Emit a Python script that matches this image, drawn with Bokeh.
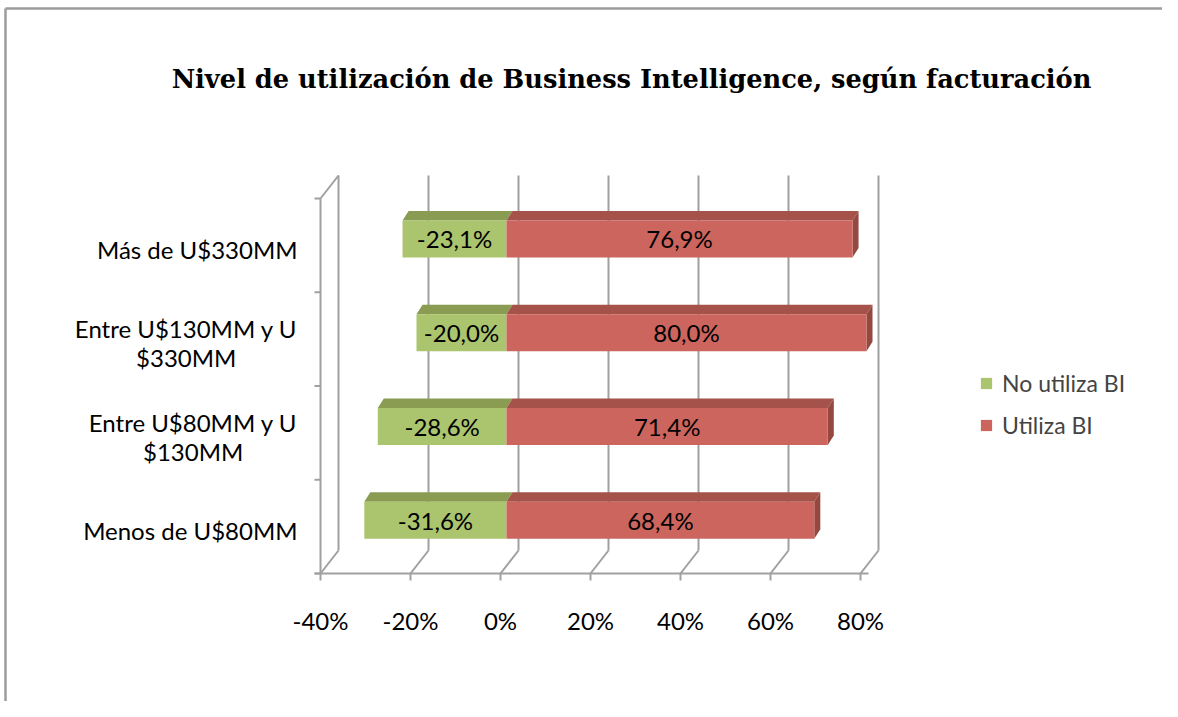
from bokeh.plotting import figure
from bokeh.models import ColumnDataSource, Range1d, Legend, LegendItem
from bokeh.core.properties import value
from bokeh.embed import file_html
from bokeh.resources import INLINE

# ---------------- data ----------------
title_text = "Nivel de utilización de Business Intelligence, según facturación"
categories = ["Menos de U$80MM", "Entre U$80MM y U\n$130MM",
              "Entre U$130MM y U\n$330MM", "Más de U$330MM"]
no_utiliza = [-31.6, -28.6, -20.0, -23.1]
utiliza = [68.4, 71.4, 80.0, 76.9]
series_names = ["No utiliza BI", "Utiliza BI"]
x_ticks = [-40, -20, 0, 20, 40, 60, 80]
x_tick_labels = ["-40%", "-20%", "0%", "20%", "40%", "60%", "80%"]

# ---------------- layout helpers ----------------
W, H = 1162, 701
PX_PER_UNIT_X = 4.5      # pixels per 1 %
PX_PER_UNIT_Y = 93.75    # pixels per category
X0_PX, Y0_PX = 500, 573  # screen position of (0%, floor)

def dx(px):
    return px / PX_PER_UNIT_X

def dy(px):
    return px / PX_PER_UNIT_Y

BACK_DX, BACK_DY = dx(18), dy(23)       # depth of the 3D box
BAR_FX, BAR_FY = dx(6), dy(6.5)         # front face of bars offset
BAR_DX, BAR_DY = dx(6), dy(9.5)         # bar depth
BAR_H = dy(37)

GRID = "#A0A0A0"
GREEN, GREEN_TOP = "#ABC46E", "#899C52"
RED, RED_TOP, RED_SIDE = "#CC655D", "#A5524A", "#944840"
FONT = "Lato"

p = figure(width=W, height=H,
           x_range=Range1d(-X0_PX / PX_PER_UNIT_X, (W - X0_PX) / PX_PER_UNIT_X),
           y_range=Range1d((Y0_PX - H) / PX_PER_UNIT_Y, Y0_PX / PX_PER_UNIT_Y),
           output_backend="svg", toolbar_location=None, min_border=0,
           x_axis_location=None, y_axis_location=None)
p.grid.visible = False
p.outline_line_color = None
p.background_fill_color = "white"
p.border_fill_color = "white"

xmin, xmax = x_ticks[0], x_ticks[-1]
ncat = len(categories)

# chart border (top and left)
bx = -dx(X0_PX - 5)
by = dy(Y0_PX - 8)
p.segment(x0=[bx, bx], y0=[by, by], x1=[p.x_range.end, bx], y1=[by, p.y_range.start],
          line_color="#9C9C9C", line_width=2.5)

# back wall gridlines
p.segment(x0=[t + BACK_DX for t in x_ticks], y0=[BACK_DY] * len(x_ticks),
          x1=[t + BACK_DX for t in x_ticks], y1=[ncat + BACK_DY] * len(x_ticks),
          line_color=GRID, line_width=2)
# floor diagonals
p.segment(x0=x_ticks, y0=[0] * len(x_ticks),
          x1=[t + BACK_DX for t in x_ticks], y1=[BACK_DY] * len(x_ticks),
          line_color=GRID, line_width=2)
# floor front line + ticks
p.segment(x0=[xmin - dx(6)], y0=[0], x1=[xmax + dx(8)], y1=[0],
          line_color=GRID, line_width=2)
p.segment(x0=x_ticks, y0=[0] * len(x_ticks), x1=x_ticks, y1=[-dy(7)] * len(x_ticks),
          line_color=GRID, line_width=2)
# left wall front edge, top diagonal, ticks
p.segment(x0=[xmin, xmin], y0=[0, ncat], x1=[xmin, xmin + BACK_DX], y1=[ncat, ncat + BACK_DY],
          line_color=GRID, line_width=2)
p.segment(x0=[xmin - dx(6)] * (ncat + 1), y0=list(range(ncat + 1)),
          x1=[xmin] * (ncat + 1), y1=list(range(ncat + 1)),
          line_color=GRID, line_width=2)

# ---------------- bars ----------------
yc = [i + 0.5 + BAR_FY for i in range(ncat)]
src = ColumnDataSource(dict(
    y=yc,
    g_left=[v + BAR_FX for v in no_utiliza], r_left=[BAR_FX] * ncat,
    g_right=[BAR_FX] * ncat, r_right=[v + BAR_FX for v in utiliza],
    g_mid=[v / 2 + BAR_FX for v in no_utiliza], r_mid=[v / 2 + BAR_FX for v in utiliza],
    g_lab=[("%.1f%%" % v).replace(".", ",") for v in no_utiliza],
    r_lab=[("%.1f%%" % v).replace(".", ",") for v in utiliza],
))

def top_faces(lefts, rights):
    xs, ys = [], []
    for l, r, y in zip(lefts, rights, yc):
        t = y + BAR_H / 2
        xs.append([l, r, r + BAR_DX, l + BAR_DX])
        ys.append([t, t, t + BAR_DY, t + BAR_DY])
    return xs, ys

gx, gy = top_faces(src.data["g_left"], src.data["g_right"])
rx, ry = top_faces(src.data["r_left"], src.data["r_right"])
p.patches(gx, gy, fill_color=GREEN_TOP, line_color=None)
p.patches(rx, ry, fill_color=RED_TOP, line_color=None)
# right side of red bars
sx, sy = [], []
for r, y in zip(src.data["r_right"], yc):
    b, t = y - BAR_H / 2, y + BAR_H / 2
    sx.append([r, r + BAR_DX, r + BAR_DX, r])
    sy.append([b, b + BAR_DY, t + BAR_DY, t])
p.patches(sx, sy, fill_color=RED_SIDE, line_color=None)

g_r = p.hbar(y="y", left="g_left", right="g_right", height=BAR_H, source=src,
             fill_color=GREEN, line_color=None)
r_r = p.hbar(y="y", left="r_left", right="r_right", height=BAR_H, source=src,
             fill_color=RED, line_color=None)

NUM_SIZE = "24px"
TXT_SIZE = "24px"
p.text(x="g_mid", y="y", text="g_lab", source=src, text_align="center",
       text_baseline="middle", text_font=value(FONT), text_font_size=NUM_SIZE, text_color="black")
p.text(x="r_mid", y="y", text="r_lab", source=src, text_align="center",
       text_baseline="middle", text_font=value(FONT), text_font_size=NUM_SIZE, text_color="black")

# ---------------- axis labels ----------------
p.text(x=x_ticks, y=[-dy(47)] * len(x_ticks), text=x_tick_labels, text_align="center",
       text_baseline="middle", text_font=value(FONT), text_font_size=NUM_SIZE, text_color="black")
p.text(x=[xmin - dx(23)] * ncat, y=[i + 0.5 - dy(4) for i in range(ncat)], text=categories,
       anchor="center_right", text_align="center", text_baseline="middle",
       text_line_height=1.02,
       text_font=value(FONT), text_font_size=TXT_SIZE, text_color="black")

# ---------------- title ----------------
p.text(x=[dx(631 - X0_PX)], y=[dy(Y0_PX - 78)], text=[title_text], text_align="center",
       text_baseline="middle", text_font=value("DejaVu Serif"), text_font_style="bold",
       text_font_size="25.7px", text_color="black")

# ---------------- legend ----------------
legend = Legend(items=[LegendItem(label=series_names[0], renderers=[g_r]),
                       LegendItem(label=series_names[1], renderers=[r_r])],
                location=(979, 262), orientation="vertical",
                glyph_width=14, glyph_height=14, label_height=20, spacing=14,
                label_standoff=9, padding=0, margin=0,
                border_line_color=None, background_fill_alpha=0,
                label_text_font=FONT, label_text_font_size="23px")
p.add_layout(legend, "center")

open("out.html", "w").write(file_html(p, INLINE))
